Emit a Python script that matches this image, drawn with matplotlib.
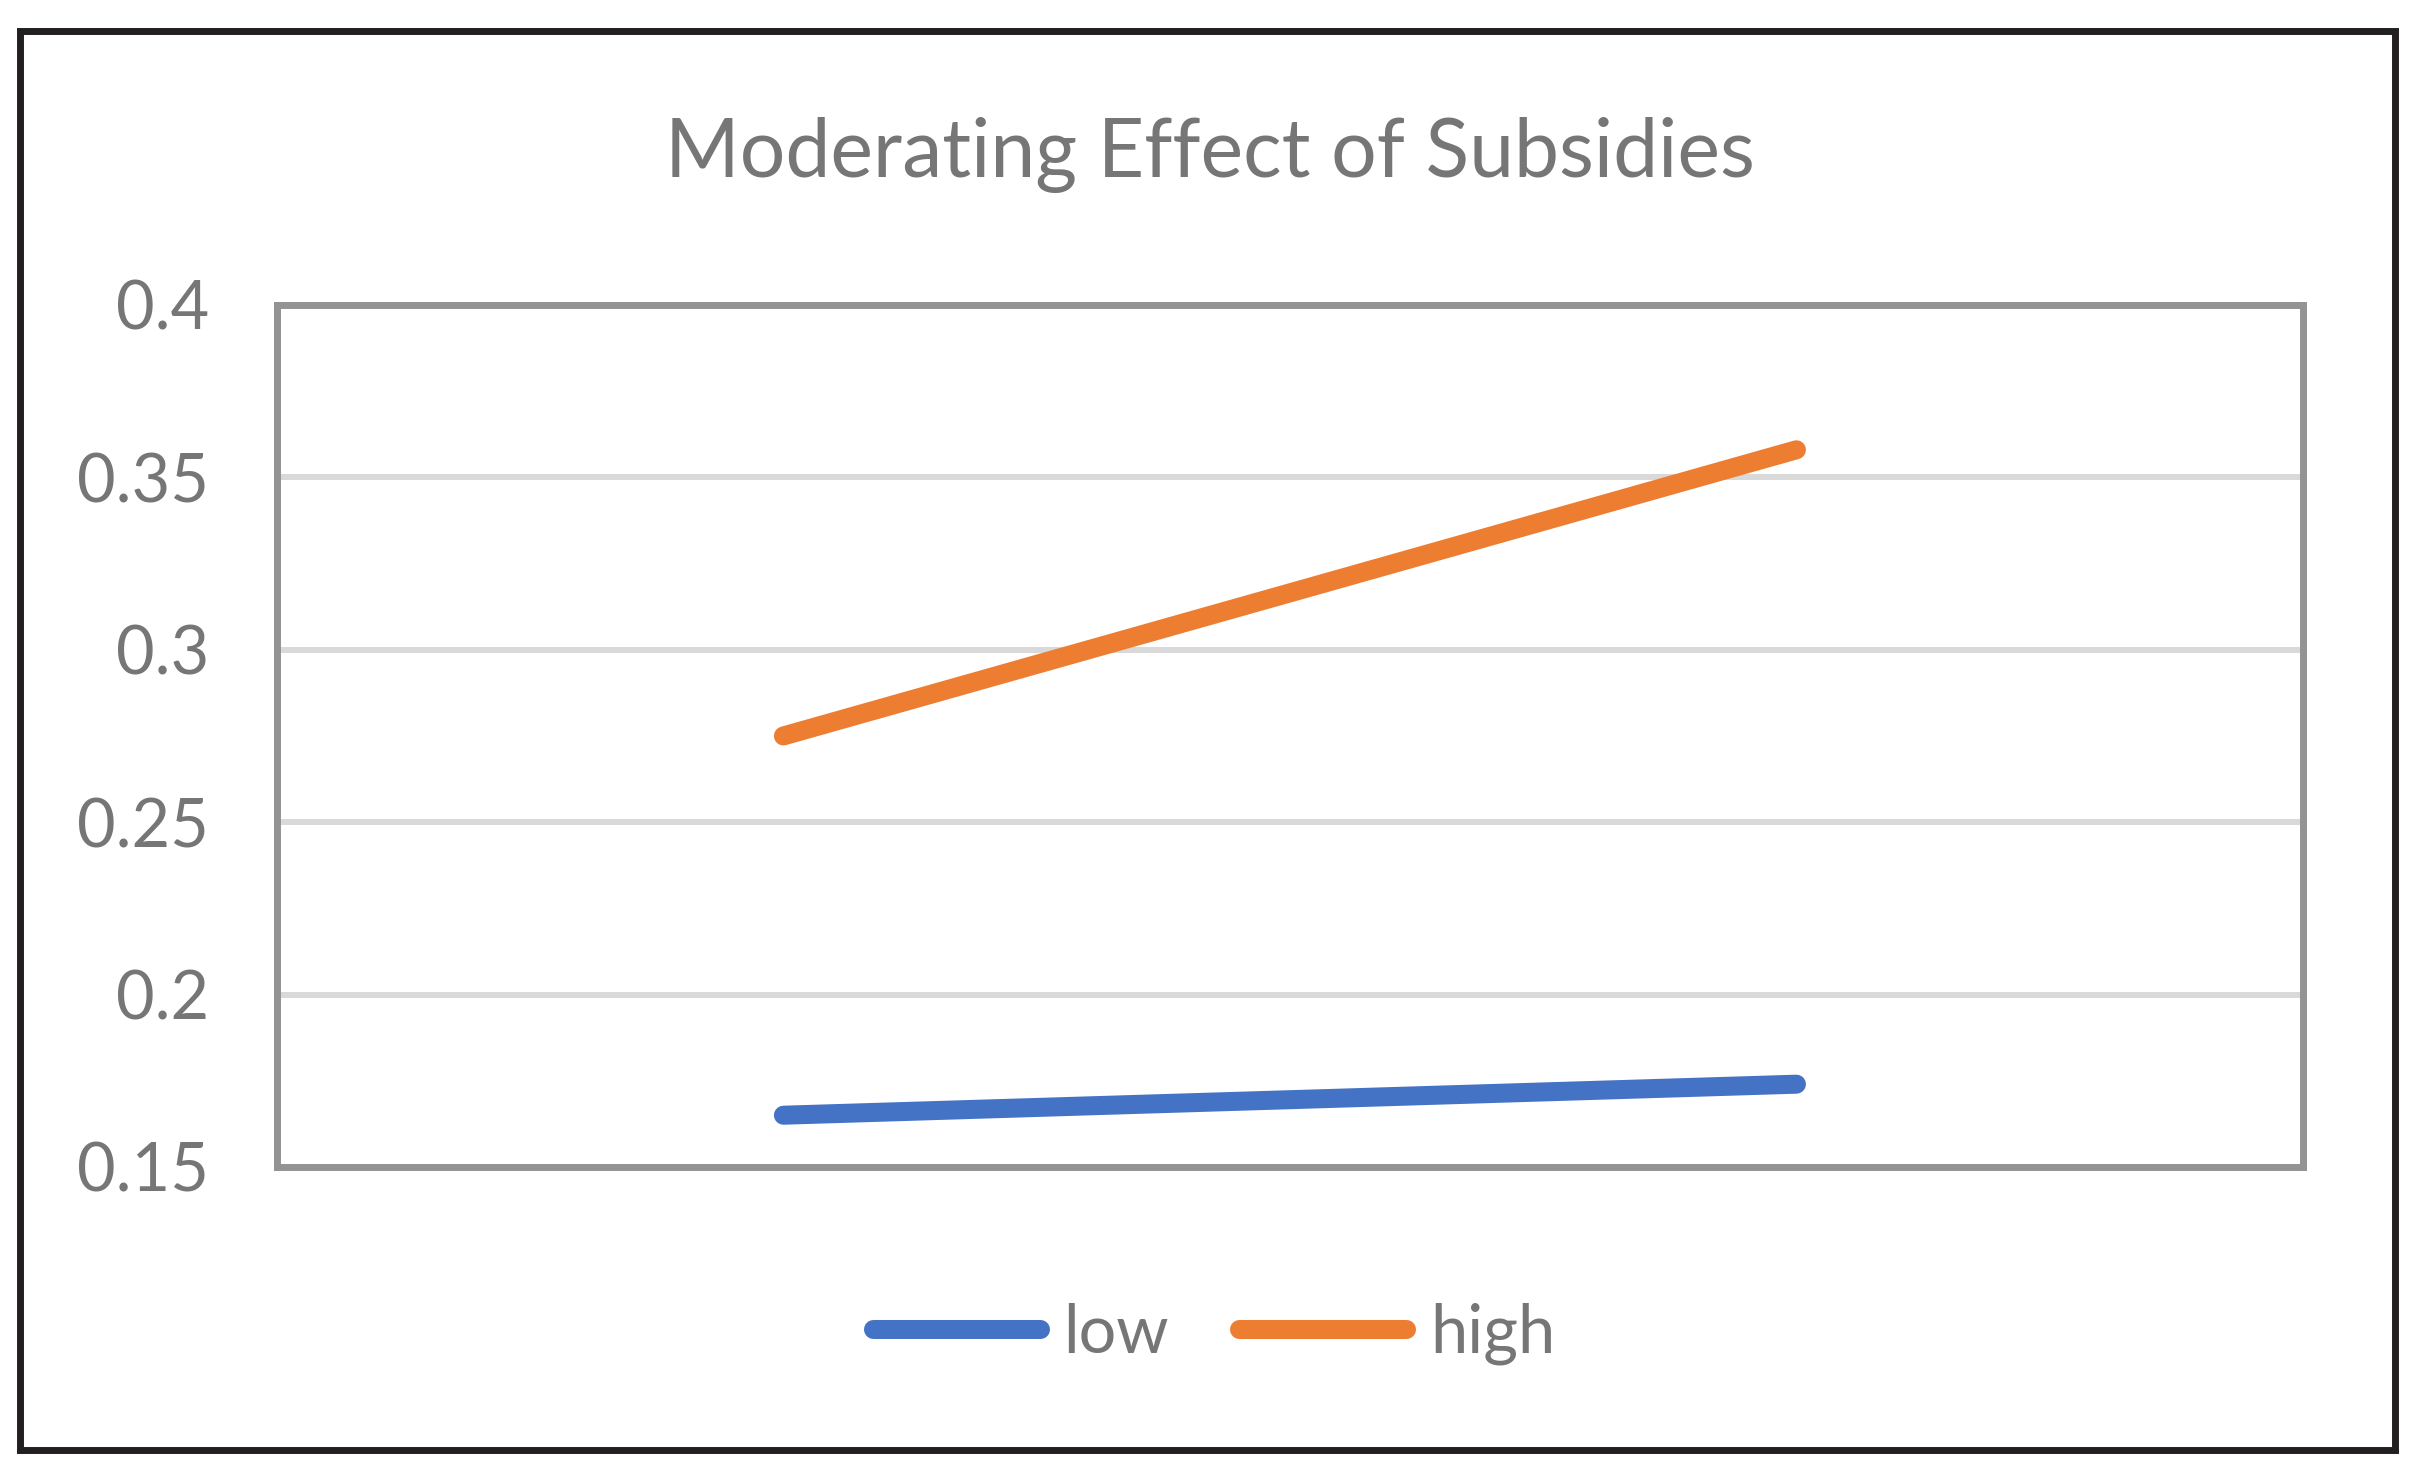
import matplotlib.pyplot as plt
from matplotlib.patches import Rectangle

# data
x_pos = [0.5, 1.5]
low = [0.165, 0.174]
high = [0.275, 0.358]
series_names = ['low', 'high']
y_ticks = [0.15, 0.2, 0.25, 0.3, 0.35, 0.4]

text_gray = '#767676'
plt.rcParams['font.family'] = ['Lato', 'DejaVu Sans']

fig = plt.figure(figsize=(24.14, 14.79), dpi=100)
ax = fig.add_axes([0.1147, 0.2110, 0.954 - 0.1147, 0.7938 - 0.2110])

ax.plot(x_pos, low, color='#4472C4', linewidth=13.7, solid_capstyle='round', label=series_names[0], zorder=3)
ax.plot(x_pos, high, color='#ED7D31', linewidth=13.7, solid_capstyle='round', label=series_names[1], zorder=3)

ax.set_xlim(0, 2)
ax.set_ylim(0.15, 0.4)
ax.set_xticks([])
ax.set_yticks(y_ticks)
ax.set_yticklabels(['%g' % v for v in y_ticks])
ax.tick_params(axis='y', length=0, pad=49, labelsize=48, labelcolor=text_gray)

for v in y_ticks[1:-1]:
    ax.axhline(v, color='#D9D9D9', linewidth=4.3, zorder=1)

for s in ax.spines.values():
    s.set_color('#939393')
    s.set_linewidth(5)

fig.text(1210 / 2414, 1 - 177 / 1479, 'Moderating Effect of Subsidies', ha='center', va='baseline',
         fontsize=58, color=text_gray)

fig.legend(loc='center', bbox_to_anchor=(1214 / 2414, 1 - 1334 / 1479), ncol=2, frameon=False,
           fontsize=48, labelcolor=text_gray, handlelength=2.5, handletextpad=0.36, columnspacing=1.05)

# outer border
fig.patches.append(Rectangle((20 / 2414, 1 - 1450 / 1479), 2375 / 2414, 1419 / 1479,
                             transform=fig.transFigure, fill=False, edgecolor='#231F20', linewidth=5))

fig.savefig('out.png', dpi=100)
